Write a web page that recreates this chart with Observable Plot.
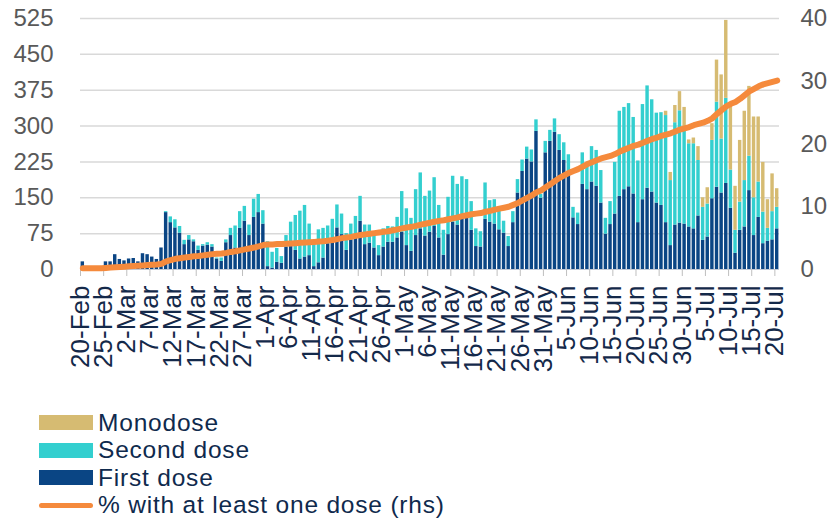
<!DOCTYPE html>
<html>
<head>
<meta charset="utf-8">
<script src="https://cdn.jsdelivr.net/npm/d3@7"></script>
<script src="https://cdn.jsdelivr.net/npm/@observablehq/plot@0.6"></script>
<style>
  body { margin: 0; background: #fff; font-family: "Liberation Sans", Arial, sans-serif; }
  #wrap { position: relative; width: 832px; height: 518px; overflow: hidden; }
  #chart { position: absolute; left: 0; top: 0; }
  #legend { position: absolute; left: 39px; top: 409px; }
  .row { display: flex; align-items: center; height: 27.5px; font-size: 24.5px; letter-spacing: 0.8px; color: #0f2a4d; white-space: nowrap; }
  .sw { width: 54px; height: 15px; margin-right: 5px; }
  .ln { width: 54px; height: 5px; border-radius: 3px; margin-right: 5px; }
</style>
</head>
<body>
<div id="wrap"><div id="chart"></div><div id="legend"></div></div>
<script>
// Daily vaccinations from 20 Feb 2021 (one value per day)
const startDay = "2021-02-20";

const firstDose = [
  16,0,0,0,0,16,16,31,21,18,
  22,23,16,33,31,26,21,45,119,98,
  87,76,52,62,58,40,49,51,47,22,
  17,56,71,45,86,101,71,109,119,95,
  6,3,15,13,47,48,40,22,26,29,
  6,14,24,54,57,87,73,40,62,69,
  101,52,55,45,29,47,57,57,66,78,
  50,38,71,85,70,78,90,66,30,73,
  99,93,107,109,82,48,47,105,99,95,
  83,76,48,98,160,205,231,225,289,149,
  244,268,287,249,228,201,108,94,178,167,
  183,174,139,74,94,116,153,167,173,158,
  98,146,170,162,139,134,98,50,93,97,
  95,89,85,112,61,68,148,172,160,180,
  128,34,82,89,165,71,109,54,59,62,
  85
];

const secondDose = [
  0,0,0,0,0,0,0,0,0,0,
  0,0,0,0,0,0,0,0,2,12,
  17,14,9,9,4,9,3,5,5,2,
  7,6,15,46,35,31,22,38,38,28,
  52,33,29,14,24,51,73,100,108,66,
  48,69,62,37,48,48,43,35,33,42,
  52,41,38,30,21,38,33,32,43,85,
  77,69,96,117,83,86,102,68,52,78,
  96,85,87,79,60,37,32,76,45,51,
  45,25,21,23,28,24,25,25,24,8,
  24,23,28,33,37,39,22,24,66,57,
  74,75,68,33,48,108,178,172,174,160,
  129,199,214,193,188,194,224,136,214,235,
  199,174,178,116,69,69,122,178,113,178,
  80,48,59,97,72,79,74,66,27,59,
  45
];

const monodose = [
  0,0,0,0,0,0,0,0,0,0,
  0,0,0,0,0,0,0,0,0,0,
  0,0,0,0,0,0,0,0,0,0,
  0,0,0,0,0,0,0,0,0,0,
  0,0,0,0,0,0,0,0,0,0,
  0,0,0,0,0,0,0,0,0,0,
  0,0,0,0,0,0,0,0,0,0,
  0,0,0,0,0,0,0,0,0,0,
  0,0,0,0,0,0,0,0,0,0,
  0,0,0,0,0,0,0,0,0,0,
  0,0,0,0,0,0,0,0,0,0,
  0,0,0,0,0,0,0,0,0,0,
  0,0,0,0,0,0,9,17,36,40,
  45,8,12,29,20,34,35,88,134,163,
  136,92,129,145,146,169,136,104,60,79,
  39
];

// Share of population with at least one dose, % (right-hand axis)
const pctAtLeastOne = [
  0.2,0.2,0.2,0.2,0.2,0.25,0.3,0.35,0.4,0.45,
  0.5,0.55,0.6,0.65,0.7,0.75,0.8,0.9,1.3,1.5,
  1.7,1.8,1.9,2.0,2.1,2.15,2.25,2.35,2.45,2.5,
  2.55,2.65,2.8,2.9,3.05,3.2,3.35,3.5,3.7,3.9,
  4.0,4.0,4.05,4.05,4.1,4.15,4.2,4.25,4.3,4.35,
  4.4,4.45,4.5,4.6,4.7,4.85,5.0,5.1,5.2,5.35,
  5.5,5.6,5.7,5.8,5.9,6.0,6.1,6.25,6.4,6.55,
  6.7,6.8,6.95,7.15,7.3,7.45,7.6,7.75,7.85,8.0,
  8.15,8.3,8.5,8.65,8.8,8.9,9.0,9.2,9.35,9.55,
  9.7,9.85,10.0,10.3,10.6,11.0,11.4,11.8,12.3,12.6,
  13.1,13.6,14.1,14.6,15.0,15.4,15.7,16.0,16.4,16.8,
  17.1,17.4,17.7,17.9,18.1,18.4,18.8,19.1,19.4,19.7,
  19.9,20.2,20.5,20.8,21.0,21.3,21.5,21.7,22.0,22.3,
  22.5,22.7,23.0,23.2,23.4,23.7,24.1,24.8,25.4,26.0,
  26.4,26.7,27.2,27.8,28.4,28.8,29.2,29.5,29.7,29.9,
  30.1
];

const doseTypes = ["First dose", "Second dose", "Monodose"];
const doseColors = ["#0a4584", "#33cfcf", "#d6bb72"];
const lineColor = "#f58a3c";
const lineLabel = "% with at least one dose (rhs)";

const leftTicks = [0, 75, 150, 225, 300, 375, 450, 525];
const rightTicks = [0, 10, 20, 30, 40];
const tickStep = 5; // one date label every five days

// Build the stacked table and the line series
const start = d3.utcParse("%Y-%m-%d")(startDay);
const days = d3.range(firstDose.length).map(i => d3.utcDay.offset(start, i));
const series = [firstDose, secondDose, monodose];
const rows = [];
days.forEach((d, i) => {
  doseTypes.forEach((t, j) => rows.push({date: d, dose: t, value: series[j][i]}));
});
const k = leftTicks[leftTicks.length - 1] / rightTicks[rightTicks.length - 1];
const lineData = days.map((d, i) => ({mid: d3.utcHour.offset(d, 12), pct: pctAtLeastOne[i]}));
const tickDates = d3.range(0, days.length, tickStep).map(i => days[i]);
const fmt = d3.utcFormat("%-d-%b");
const font = "'Liberation Sans', Arial, sans-serif";

const chart = Plot.plot({
  width: 832,
  height: 400,
  marginLeft: 80,
  marginRight: 53,
  marginTop: 18,
  marginBottom: 131,
  style: {fontFamily: font, background: "transparent", overflow: "visible"},
  x: {type: "utc", domain: [start, d3.utcDay.offset(start, days.length)], axis: null},
  y: {domain: [0, 525], axis: null},
  color: {domain: doseTypes, range: doseColors},
  marks: [
    Plot.gridY(leftTicks.filter(v => v > 0), {stroke: "#d9d9d9", strokeOpacity: 1, strokeWidth: 1.5}),
    Plot.rectY(rows, {x: "date", interval: d3.utcDay, y: "value", fill: "dose", insetLeft: 0.6, insetRight: 0.6}),
    Plot.ruleY([0], {stroke: "#c3cad6", strokeWidth: 1}),
    Plot.axisX(tickDates, {
      tickSize: 7, tickPadding: 9, tickRotate: -90, tickFormat: fmt,
      fontSize: 26, fill: "#14294a", stroke: "#bfbfbf", label: null
    }),
    Plot.axisY(leftTicks, {anchor: "left", tickSize: 0, tickPadding: 27, fontSize: 24, fill: "#595959", label: null}),
    Plot.axisY(rightTicks.map(v => v * k), {
      anchor: "right", tickSize: 0, tickPadding: 21, fontSize: 24, fill: "#595959",
      tickFormat: v => Math.round(v / k), label: null
    }),
    Plot.line(lineData, {
      x: "mid", y: d => d.pct * k, stroke: lineColor, strokeWidth: 6,
      strokeLinecap: "round", strokeLinejoin: "round"
    })
  ]
});
document.getElementById("chart").appendChild(chart);

// Legend under the chart
const legend = document.getElementById("legend");
const entries = [
  {label: "Monodose", color: doseColors[2], kind: "sw"},
  {label: "Second dose", color: doseColors[1], kind: "sw"},
  {label: "First dose", color: doseColors[0], kind: "sw"},
  {label: lineLabel, color: lineColor, kind: "ln"}
];
entries.forEach(e => {
  const row = document.createElement("div");
  row.className = "row";
  const s = document.createElement("span");
  s.className = e.kind;
  s.style.background = e.color;
  const t = document.createElement("span");
  t.textContent = e.label;
  row.appendChild(s);
  row.appendChild(t);
  legend.appendChild(row);
});
</script>
</body>
</html>
